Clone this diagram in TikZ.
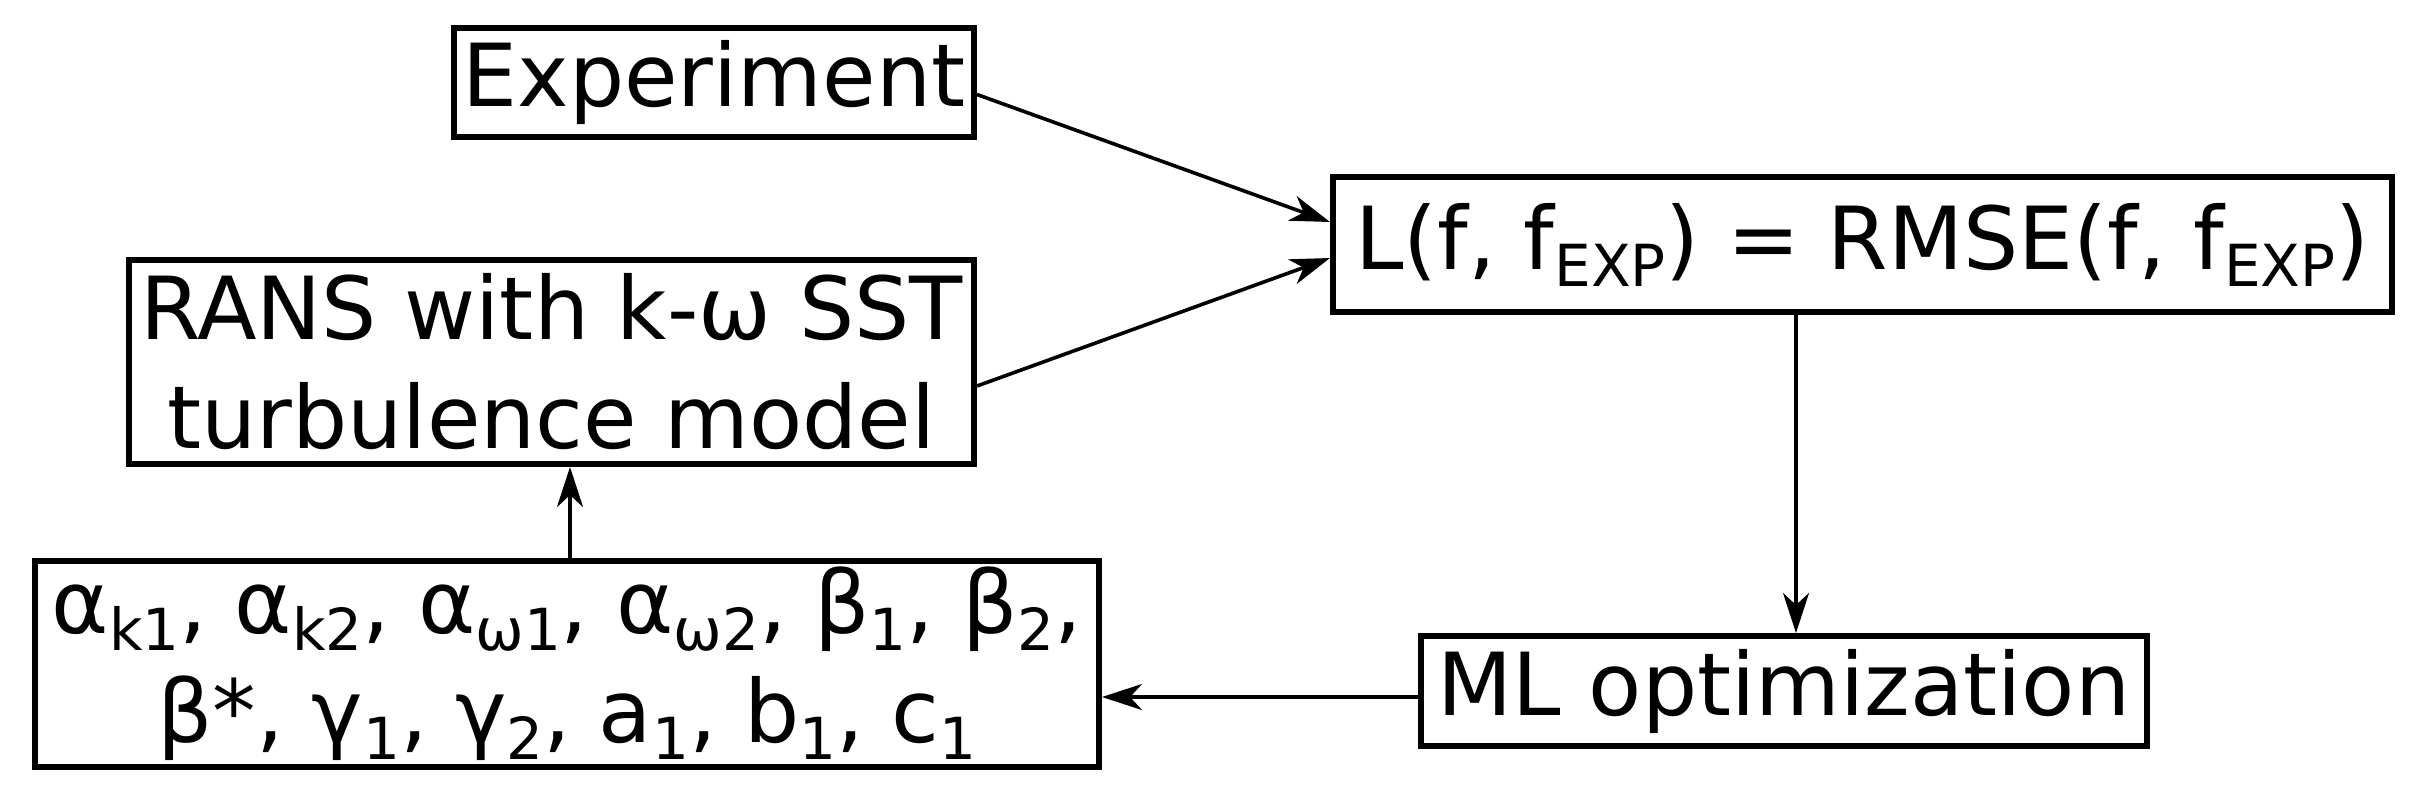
\documentclass[tikz,border=0pt]{standalone}
\usepackage{fontspec}
\setmainfont{DejaVu Sans}
\usetikzlibrary{arrows.meta,calc}
\newcommand\sbs[1]{\raisebox{-8.5pt}{\fontsize{29pt}{29pt}\selectfont #1}}
\begin{document}
\begin{tikzpicture}[x=0.5pt,y=-0.5pt,
  box/.style={draw,line width=3pt,inner sep=0pt,align=center,
    font=\fontsize{43.5pt}{54.5pt}\selectfont},
  arr/.style={line width=1.8pt,-{Stealth[length=20pt,width=13pt,inset=6pt]}}]
\useasboundingbox (0,0) rectangle (2425,797);
\node[box,minimum width=260pt,minimum height=54.5pt] (exp) at (714,82.5) {Experiment};
\node[box,minimum width=529.5pt,minimum height=67.5pt] (loss) at (1862.5,244.5) {L(f, f\sbs{EXP}) = RMSE(f, f\sbs{EXP})};
\node[box,minimum width=422.5pt,minimum height=102pt] (rans) at (551.5,362) {RANS with k-ω SST\\turbulence model};
\node[box,minimum width=532pt,minimum height=103pt] (par) at (567,664) {α\sbs{k1}, α\sbs{k2}, α\sbs{ω1}, α\sbs{ω2}, β\sbs{1}, β\sbs{2},\\β*, γ\sbs{1}, γ\sbs{2}, a\sbs{1}, b\sbs{1}, c\sbs{1}};
\node[box,minimum width=363pt,minimum height=55pt] (ml) at (1784,691) {ML optimization};
\coordinate (vx) at (1796,0);
\coordinate (ux) at (570,0);
\draw[arr] ([yshift=-6pt]exp.east) -- ([yshift=11.25pt]loss.west);
\draw[arr] ([yshift=-12pt]rans.east) -- ([yshift=-6.75pt]loss.west);
\draw[arr] (loss.south -| vx) -- (ml.north -| vx);
\draw[arr] ([yshift=-3pt]ml.west) -- ([yshift=-3pt]ml.west -| par.east);
\draw[arr] (par.north -| ux) -- (rans.south -| ux);
\end{tikzpicture}
\end{document}
